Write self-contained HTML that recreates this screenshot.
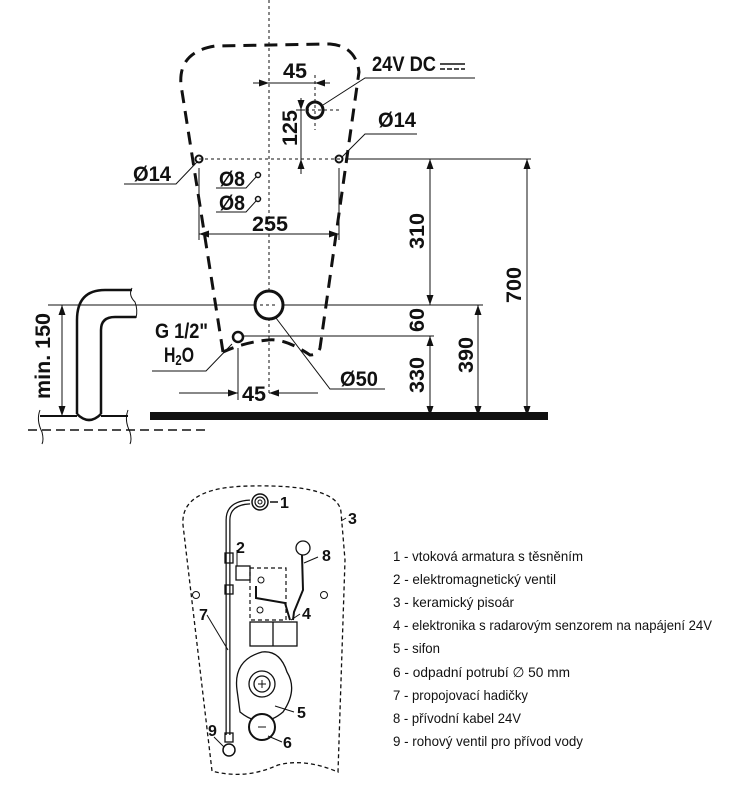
<!DOCTYPE html>
<html><head><meta charset="utf-8"><style>
html,body{margin:0;padding:0;background:#fff;width:740px;height:800px;overflow:hidden}
svg{display:block}
.d{font-family:"Liberation Sans",sans-serif;font-weight:bold;font-size:21px;fill:#111}
.l{font-family:"Liberation Sans",sans-serif;font-size:14px;fill:#111}
.n{font-family:"Liberation Sans",sans-serif;font-weight:bold;font-size:16px;fill:#111}
</style></head><body>
<svg width="740" height="800" viewBox="0 0 740 800" xmlns="http://www.w3.org/2000/svg">
<defs>
<marker id="a" viewBox="0 0 10 10" refX="10" refY="5" markerWidth="10" markerHeight="10" orient="auto-start-reverse" markerUnits="userSpaceOnUse"><path d="M0,1.5 L10,5 L0,8.5z" fill="#111"/></marker>
</defs>
<g stroke="#111" fill="none">
<path d="M223,352 L181,85 Q178,52 215,46 L330,44 Q356,46 359,72 L320,348 Q318,355 310,355 Q285,338 268,340 Q245,342 223,352" stroke-width="3" stroke-dasharray="13,8"/>
<line x1="269" y1="0" x2="269" y2="395" stroke-width="1" stroke-dasharray="3,3"/>
<line x1="199" y1="159" x2="341" y2="159" stroke-width="1" stroke-dasharray="3,3"/>
<line x1="315" y1="75" x2="315" y2="130" stroke-width="1" stroke-dasharray="3,3"/>
<line x1="300" y1="110" x2="340" y2="110" stroke-width="1" stroke-dasharray="3,3"/>
<circle cx="315" cy="110" r="8" stroke-width="3"/>
<circle cx="199" cy="159" r="3.5" stroke-width="2"/>
<circle cx="339" cy="159" r="3.5" stroke-width="2"/>
<circle cx="258" cy="175" r="2.5" stroke-width="1.5"/>
<circle cx="258" cy="199" r="2.5" stroke-width="1.5"/>
<line x1="253" y1="83" x2="269" y2="83" stroke-width="1" marker-end="url(#a)"/>
<line x1="269" y1="83" x2="315" y2="83" stroke-width="1"/>
<line x1="330" y1="83" x2="315" y2="83" stroke-width="1" marker-end="url(#a)"/>
<line x1="301" y1="98" x2="301" y2="110" stroke-width="1" marker-end="url(#a)"/>
<line x1="301" y1="110" x2="301" y2="159" stroke-width="1"/>
<line x1="301" y1="174" x2="301" y2="159" stroke-width="1" marker-end="url(#a)"/>
<line x1="296" y1="110" x2="305" y2="110" stroke-width="1"/>
<line x1="199" y1="168" x2="199" y2="240" stroke-width="1"/>
<line x1="339" y1="168" x2="339" y2="240" stroke-width="1"/>
<line x1="199" y1="234" x2="339" y2="234" stroke-width="1" marker-start="url(#a)" marker-end="url(#a)"/>
<polyline points="124,184 176,184 197,162" stroke-width="1"/>
<polyline points="216,188 246,188 256,177" stroke-width="1"/>
<polyline points="216,212 246,212 256,201" stroke-width="1"/>
<polyline points="323,105 365,78 475,78" stroke-width="1"/>
<polyline points="342,157 365,134 417,134" stroke-width="1"/>
<line x1="345" y1="159" x2="531" y2="159" stroke-width="1"/>
<line x1="430" y1="159" x2="430" y2="305" stroke-width="1" marker-start="url(#a)" marker-end="url(#a)"/>
<line x1="527" y1="159" x2="527" y2="416" stroke-width="1" marker-start="url(#a)" marker-end="url(#a)"/>
<line x1="48" y1="305" x2="483" y2="305" stroke-width="1"/>
<line x1="243" y1="336" x2="434" y2="336" stroke-width="1"/>
<line x1="430" y1="336" x2="430" y2="416" stroke-width="1" marker-start="url(#a)" marker-end="url(#a)"/>
<line x1="478" y1="305" x2="478" y2="416" stroke-width="1" marker-start="url(#a)" marker-end="url(#a)"/>
<circle cx="269" cy="305" r="14" stroke-width="3" fill="#fff"/>
<line x1="260" y1="305" x2="278" y2="305" stroke-width="1" stroke-dasharray="3,3"/>
<circle cx="238" cy="337" r="5" stroke-width="2.5" fill="#fff"/>
<polyline points="276,318 330,389 385,389" stroke-width="1"/>
<polyline points="232,344 206,371 152,371" stroke-width="1"/>
<line x1="238" y1="348" x2="238" y2="400" stroke-width="1"/>
<line x1="179" y1="393" x2="238" y2="393" stroke-width="1" marker-end="url(#a)"/>
<line x1="318" y1="393" x2="269" y2="393" stroke-width="1" marker-end="url(#a)"/>
<path d="M77,414 L77,320 Q77,290 105,290 L132,290" stroke-width="2.5"/>
<path d="M101,414 L101,330 Q101,317 115,317 L136,317" stroke-width="2.5"/>
<path d="M77,414 Q89,426 101,414" stroke-width="2.5"/>
<path d="M132,288 Q128,295 135,302 Q138,310 136,318" stroke-width="1"/>
<line x1="40" y1="416" x2="77" y2="416" stroke-width="2"/>
<line x1="101" y1="416" x2="128" y2="416" stroke-width="2"/>
<line x1="28" y1="430" x2="205" y2="430" stroke-width="1.5" stroke-dasharray="9,5"/>
<path d="M40,410 Q36,420 42,432 Q44,440 42,444" stroke-width="1"/>
<path d="M128,410 Q124,420 130,432 Q132,440 130,444" stroke-width="1"/>
<line x1="62" y1="305" x2="62" y2="416" stroke-width="1" marker-start="url(#a)" marker-end="url(#a)"/>
</g>
<rect x="150" y="412" width="398" height="8" fill="#111"/>
<text class="d" x="283" y="78" textLength="24" lengthAdjust="spacingAndGlyphs">45</text>
<text class="d" x="372" y="71" textLength="64" lengthAdjust="spacingAndGlyphs">24V DC</text>
<line x1="440" y1="64" x2="465" y2="64" stroke="#111" stroke-width="1.5"/>
<line x1="440" y1="69" x2="465" y2="69" stroke="#111" stroke-width="1.5" stroke-dasharray="5,2"/>
<text class="d" transform="translate(297,146) rotate(-90)" textLength="36" lengthAdjust="spacingAndGlyphs">125</text>
<text class="d" x="378" y="127" textLength="38" lengthAdjust="spacingAndGlyphs">Ø14</text>
<text class="d" x="133" y="181" textLength="38" lengthAdjust="spacingAndGlyphs">Ø14</text>
<text class="d" x="219" y="186" textLength="26" lengthAdjust="spacingAndGlyphs">Ø8</text>
<text class="d" x="219" y="210" textLength="26" lengthAdjust="spacingAndGlyphs">Ø8</text>
<text class="d" x="252" y="231" textLength="36" lengthAdjust="spacingAndGlyphs">255</text>
<text class="d" transform="translate(424,249) rotate(-90)" textLength="36" lengthAdjust="spacingAndGlyphs">310</text>
<text class="d" transform="translate(521,303) rotate(-90)" textLength="36" lengthAdjust="spacingAndGlyphs">700</text>
<text class="d" transform="translate(424,332) rotate(-90)" textLength="24" lengthAdjust="spacingAndGlyphs">60</text>
<text class="d" transform="translate(424,393) rotate(-90)" textLength="36" lengthAdjust="spacingAndGlyphs">330</text>
<text class="d" transform="translate(473,373) rotate(-90)" textLength="36" lengthAdjust="spacingAndGlyphs">390</text>
<text class="d" x="155" y="338" textLength="53" lengthAdjust="spacingAndGlyphs">G 1/2"</text>
<text class="d" x="164" y="362" textLength="30" lengthAdjust="spacingAndGlyphs">H<tspan font-size="15" dy="3">2</tspan><tspan dy="-3">O</tspan></text>
<text class="d" x="340" y="386" textLength="38" lengthAdjust="spacingAndGlyphs">Ø50</text>
<text class="d" x="242" y="401" textLength="24" lengthAdjust="spacingAndGlyphs">45</text>
<text class="d" transform="translate(50,399) rotate(-90)" textLength="86" lengthAdjust="spacingAndGlyphs">min. 150</text>
<g stroke="#111" fill="none">
<path d="M212,771 L183,525 Q180,487 250,486 Q338,484 341,512 L345,560 L338,772 Q305,758 278,765 Q245,780 212,771" stroke-width="1.3" stroke-dasharray="4,3"/>
<path d="M228,735 L228,520 Q228,503 250,502" stroke-width="5"/>
<path d="M228,735 L228,520 Q228,503 250,502" stroke-width="2.5" stroke="#fff"/>
<circle cx="260" cy="502" r="8" stroke-width="1.5"/><circle cx="260" cy="502" r="5" stroke-width="1.2"/><circle cx="260" cy="502" r="2" stroke-width="1"/>
<line x1="270" y1="502" x2="278" y2="502" stroke-width="1.5"/>
<rect x="225" y="553" width="8" height="10" stroke-width="1.3"/>
<rect x="225" y="585" width="8" height="9" stroke-width="1.3"/>
<rect x="225" y="733" width="8" height="9" stroke-width="1.3"/>
<circle cx="229" cy="750" r="6" stroke-width="1.5" fill="#fff"/>
<rect x="236" y="566" width="14" height="14" stroke-width="1.3"/>
<rect x="250" y="568" width="36" height="52" stroke-width="1.2" stroke-dasharray="4,3"/>
<polyline points="256,586 256,598 285,603 290,620" stroke-width="2"/>
<circle cx="261" cy="580" r="3" stroke-width="1"/>
<circle cx="260" cy="610" r="3" stroke-width="1"/>
<rect x="250" y="622" width="47" height="24" stroke-width="1.3"/>
<line x1="273" y1="622" x2="273" y2="646" stroke-width="1.3"/>
<circle cx="303" cy="548" r="7" stroke-width="1.3"/>
<polyline points="302,555 303,590 294,612 293,620" stroke-width="2"/>
<path d="M237,690 Q233,660 262,652 Q280,650 287,672 Q298,690 283,712 Q262,730 240,712 Z" stroke-width="1.3"/>
<circle cx="262" cy="684" r="13" stroke-width="1.3"/><circle cx="262" cy="684" r="8" stroke-width="1.3"/>
<line x1="258" y1="684" x2="266" y2="684" stroke-width="1"/><line x1="262" y1="680" x2="262" y2="688" stroke-width="1"/>
<circle cx="262" cy="727" r="13" stroke-width="2" fill="#fff"/>
<line x1="258" y1="727" x2="266" y2="727" stroke-width="1"/>
<circle cx="196" cy="595" r="3.5" stroke-width="1"/><circle cx="324" cy="595" r="3.5" stroke-width="1"/>
<line x1="207" y1="615" x2="228" y2="650" stroke-width="1"/>
<line x1="237" y1="550" x2="237" y2="566" stroke-width="1"/>
<line x1="304" y1="563" x2="318" y2="557" stroke-width="1"/>
<line x1="291" y1="620" x2="300" y2="614" stroke-width="1"/>
<line x1="275" y1="706" x2="294" y2="712" stroke-width="1"/>
<line x1="268" y1="736" x2="282" y2="742" stroke-width="1"/>
<line x1="214" y1="737" x2="224" y2="747" stroke-width="1"/>
<line x1="341" y1="521" x2="346" y2="518" stroke-width="1"/>
</g>
<text class="n" x="280" y="508">1</text>
<text class="n" x="236" y="553">2</text>
<text class="n" x="348" y="524">3</text>
<text class="n" x="302" y="619">4</text>
<text class="n" x="297" y="718">5</text>
<text class="n" x="283" y="748">6</text>
<text class="n" x="199" y="620">7</text>
<text class="n" x="322" y="561">8</text>
<text class="n" x="208" y="736">9</text>
<g class="l">
<text x="393" y="561" textLength="190" lengthAdjust="spacingAndGlyphs">1 - vtoková armatura s těsněním</text>
<text x="393" y="584" textLength="163" lengthAdjust="spacingAndGlyphs">2 - elektromagnetický ventil</text>
<text x="393" y="607" textLength="121" lengthAdjust="spacingAndGlyphs">3 - keramický pisoár</text>
<text x="393" y="630" textLength="319" lengthAdjust="spacingAndGlyphs">4 - elektronika s radarovým senzorem na napájení 24V</text>
<text x="393" y="653" textLength="47" lengthAdjust="spacingAndGlyphs">5 - sifon</text>
<text x="393" y="677" textLength="177" lengthAdjust="spacingAndGlyphs">6 - odpadní potrubí ∅ 50 mm</text>
<text x="393" y="700" textLength="135" lengthAdjust="spacingAndGlyphs">7 - propojovací hadičky</text>
<text x="393" y="723" textLength="128" lengthAdjust="spacingAndGlyphs">8 - přívodní kabel 24V</text>
<text x="393" y="746" textLength="190" lengthAdjust="spacingAndGlyphs">9 - rohový ventil pro přívod vody</text>
</g>
</svg>
</body></html>
